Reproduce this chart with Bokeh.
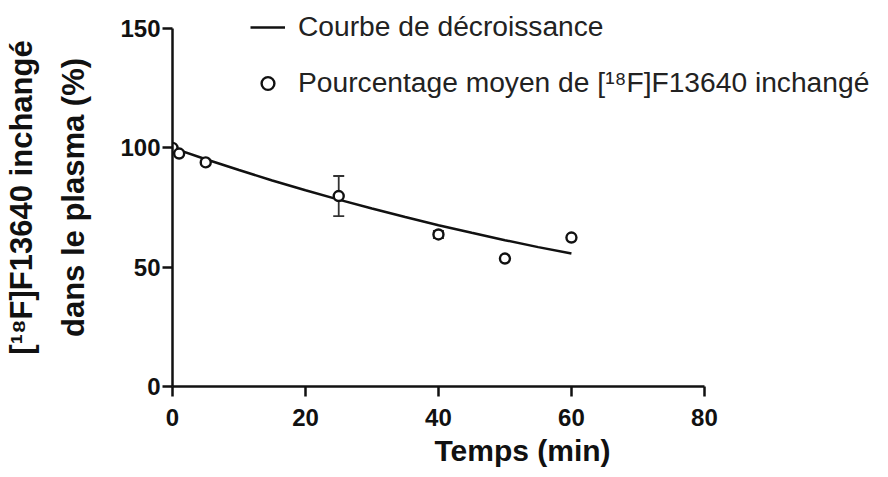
from bokeh.plotting import figure
from bokeh.models import Range1d, FixedTicker, ColumnDataSource, Whisker, TeeHead
from bokeh.embed import file_html
from bokeh.resources import INLINE

# ---- data ----
time_min = [0, 1, 5, 25, 40, 50, 60]
mean_pct = [100, 97.6, 93.9, 79.8, 63.7, 53.6, 62.4]
sd_pct = [0, 0, 0, 8.4, 1.5, 0, 0]

fit_time = [0, 5, 10, 15, 20, 25, 30, 35, 40, 45, 50, 55, 60]
fit_pct = [100, 95.2, 90.7, 86.3, 82.2, 78.3, 74.6, 71.0, 67.6, 64.4, 61.3, 58.4, 55.7]

x_ticks = [0, 20, 40, 60, 80]
y_ticks = [0, 50, 100, 150]

legend_curve = "Courbe de décroissance"
legend_points = "Pourcentage moyen de [¹⁸F]F13640 inchangé"
x_title = "Temps (min)"
y_title = "[¹⁸F]F13640 inchangé\ndans le plasma (%)"

FONT = "Liberation Sans"
INK = "#111111"

p = figure(width=872, height=469,
           x_range=Range1d(0, 105.28), y_range=Range1d(0, 158.38),
           output_backend="svg", toolbar_location=None,
           min_border_left=164, min_border_right=0,
           min_border_top=8, min_border_bottom=83)
p.outline_line_color = None
p.grid.visible = False
p.background_fill_color = "white"
p.border_fill_color = "white"

p.line(fit_time, fit_pct, line_color=INK, line_width=2.5, legend_label=legend_curve)

err_b = [t for t, s in zip(time_min, sd_pct) if s > 0]
err_u = [m + s for m, s in zip(mean_pct, sd_pct) if s > 0]
err_l = [m - s for m, s in zip(mean_pct, sd_pct) if s > 0]
esrc = ColumnDataSource(dict(base=err_b, upper=err_u, lower=err_l))
p.add_layout(Whisker(source=esrc, base="base", upper="upper", lower="lower",
                     line_color="#333333", line_width=1.8,
                     upper_head=TeeHead(size=11, line_color="#333333", line_width=1.8),
                     lower_head=TeeHead(size=11, line_color="#333333", line_width=1.8)))

p.scatter(time_min, mean_pct, marker="circle", size=10, fill_color="white",
          line_color=INK, line_width=2.4, legend_label=legend_points)

# axes
xa = p.xaxis[0]
ya = p.yaxis[0]
xa.bounds = (0, 80)
ya.bounds = (0, 150)
xa.ticker = FixedTicker(ticks=x_ticks)
ya.ticker = FixedTicker(ticks=y_ticks)
for ax in (xa, ya):
    ax.axis_line_width = 2.5
    ax.axis_line_color = INK
    ax.major_tick_line_width = 2.5
    ax.major_tick_line_color = INK
    ax.major_tick_out = 10
    ax.major_tick_in = 0
    ax.minor_tick_line_color = None
    ax.major_label_text_font = FONT
    ax.major_label_text_font_style = "bold"
    ax.major_label_text_font_size = "24px"
    ax.major_label_text_color = INK
    ax.axis_label_text_font = FONT
    ax.axis_label_text_font_style = "bold"
    ax.axis_label_text_color = INK
xa.major_label_standoff = 12
ya.major_label_standoff = 2
xa.axis_label = x_title
xa.axis_label_text_font_size = "30px"
xa.axis_label_standoff = 5
ya.axis_label = y_title
ya.axis_label_text_font_size = "31px"
ya.axis_label_text_line_height = 1.5
ya.axis_label_standoff = 26

# legend
lg = p.legend[0]
lg.location = (78, 287)
lg.padding = 0
lg.margin = 0
lg.border_line_alpha = 0
lg.background_fill_alpha = 0
lg.glyph_width = 35
lg.glyph_height = 32
lg.label_height = 32
lg.label_standoff = 13
lg.spacing = 23
lg.label_text_font = FONT
lg.label_text_font_size = "28.2px"
lg.label_text_color = "#222222"

open("out.html", "w").write(file_html(p, INLINE))
